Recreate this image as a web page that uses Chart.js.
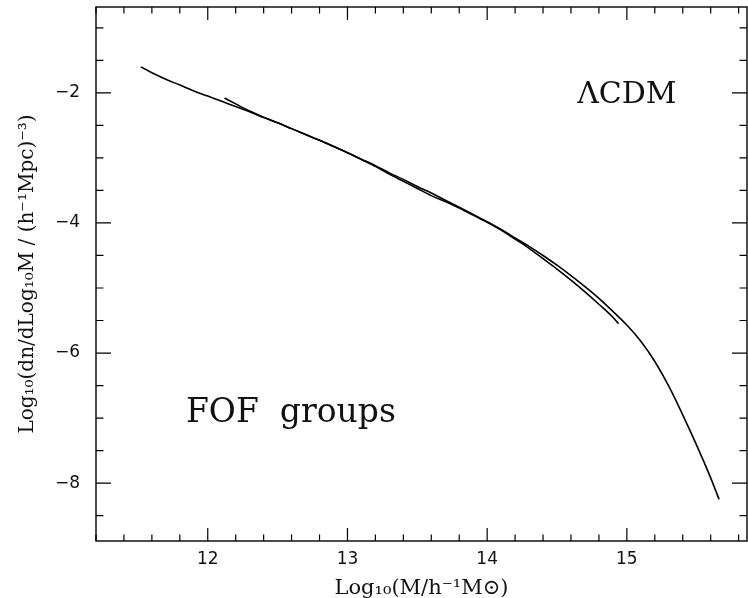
<!DOCTYPE html>
<html>
<head>
<meta charset="utf-8">
<script src="https://cdn.jsdelivr.net/npm/chart.js@4.4.1/dist/chart.umd.min.js"></script>
<style>
  html, body { margin: 0; padding: 0; background: #ffffff; }
  #wrap { width: 748px; height: 598px; }
</style>
</head>
<body>
<div id="wrap"><canvas id="c" width="748" height="598"></canvas></div>
<script>
// ---- data ----
const fullMass = [11.52, 11.6, 11.7, 11.8, 11.9, 12.0, 12.1, 12.2, 12.3, 12.4, 12.5, 12.6, 12.7, 12.8, 12.9,
  13.0, 13.1, 13.2, 13.3, 13.4, 13.5, 13.6, 13.7, 13.8, 13.9, 14.0, 14.1, 14.2, 14.3, 14.4, 14.5,
  14.6, 14.7, 14.8, 14.9, 15.0, 15.1, 15.2, 15.3, 15.4, 15.5, 15.6, 15.66];
const fullDens = [-1.60, -1.69, -1.79, -1.88, -1.97, -2.05, -2.13, -2.21, -2.29, -2.38, -2.46, -2.55, -2.64, -2.73, -2.82,
  -2.92, -3.02, -3.12, -3.23, -3.33, -3.44, -3.54, -3.65, -3.76, -3.87, -3.98, -4.10, -4.23, -4.36, -4.50, -4.65,
  -4.81, -4.98, -5.16, -5.36, -5.57, -5.82, -6.13, -6.51, -6.95, -7.42, -7.92, -8.25];
const partMass = [12.12, 12.2, 12.3, 12.4, 12.5, 12.6, 12.7, 12.8, 12.9, 13.0, 13.1, 13.2, 13.3, 13.4, 13.5,
  13.6, 13.7, 13.8, 13.9, 14.0, 14.1, 14.2, 14.3, 14.4, 14.5, 14.6, 14.7, 14.8, 14.9, 14.94];
const partDens = [-2.08, -2.17, -2.28, -2.375, -2.46, -2.55, -2.64, -2.73, -2.825, -2.92, -3.025, -3.13, -3.25, -3.36, -3.47,
  -3.58, -3.67, -3.77, -3.88, -3.99, -4.11, -4.25, -4.39, -4.55, -4.71, -4.88, -5.06, -5.25, -5.45, -5.55];
const xTickLabels = [12, 13, 14, 15];
const yTickLabels = [-8, -6, -4, -2];
const xRange = [11.2, 15.86];
const yRange = [-8.89, -0.68];
const xMinorStep = 0.2;
const yMinorStep = 0.5;
const annotations = [
  { text: 'ΛCDM', x: 15.0, y: -2.035, size: 30 },
  { text: 'FOF  groups', x: 12.595, y: -6.93, size: 33 }
];

const toPts = (xs, ys) => xs.map((x, i) => ({ x: x, y: ys[i] }));

// inward ticks on all four sides + frame + text labels
const framePlugin = {
  id: 'frame',
  afterDraw(chart) {
    const { ctx, chartArea: a, scales } = chart;
    const xs = scales.x, ys = scales.y;
    ctx.save();
    ctx.strokeStyle = '#000';
    ctx.lineWidth = 1.4;
    ctx.strokeRect(a.left, a.top, a.right - a.left, a.bottom - a.top);
    ctx.lineWidth = 1.2;
    ctx.beginPath();
    const eps = 1e-6;
    for (let v = Math.ceil(xRange[0] / xMinorStep) * xMinorStep; v <= xRange[1] + eps; v += xMinorStep) {
      const major = Math.abs(v - Math.round(v)) < eps;
      const len = major ? 13 : 6.5;
      const px = xs.getPixelForValue(v);
      ctx.moveTo(px, a.bottom); ctx.lineTo(px, a.bottom - len);
      ctx.moveTo(px, a.top); ctx.lineTo(px, a.top + len);
    }
    for (let v = Math.ceil(yRange[0] / yMinorStep) * yMinorStep; v <= yRange[1] + eps; v += yMinorStep) {
      const major = Math.abs(v / 2 - Math.round(v / 2)) < eps;
      const len = major ? 15 : 7.5;
      const py = ys.getPixelForValue(v);
      ctx.moveTo(a.left, py); ctx.lineTo(a.left + len, py);
      ctx.moveTo(a.right, py); ctx.lineTo(a.right - len, py);
    }
    ctx.stroke();
    ctx.fillStyle = '#111';
    ctx.textAlign = 'center';
    ctx.textBaseline = 'middle';
    annotations.forEach(t => {
      ctx.font = t.size + 'px "DejaVu Serif", serif';
      ctx.fillText(t.text, xs.getPixelForValue(t.x), ys.getPixelForValue(t.y));
    });
    ctx.restore();
  }
};

new Chart(document.getElementById('c'), {
  type: 'line',
  data: {
    datasets: [
      { data: toPts(fullMass, fullDens), borderColor: '#000', borderWidth: 1.6, pointRadius: 0, cubicInterpolationMode: 'monotone', fill: false },
      { data: toPts(partMass, partDens), borderColor: '#000', borderWidth: 1.6, pointRadius: 0, cubicInterpolationMode: 'monotone', fill: false }
    ]
  },
  options: {
    responsive: false,
    animation: false,
    layout: { padding: { top: 7, right: 1, left: 0, bottom: 0 } },
    plugins: { legend: { display: false }, tooltip: { enabled: false } },
    scales: {
      x: {
        type: 'linear', min: xRange[0], max: xRange[1],
        afterBuildTicks: s => { s.ticks = xTickLabels.map(v => ({ value: v })); },
        afterFit: s => { s.height = 57; s.paddingLeft = 0; s.paddingRight = 0; },
        grid: { display: false, tickLength: 0, drawTicks: false },
        border: { display: false },
        ticks: { color: '#111', padding: 8, maxRotation: 0, font: { family: 'DejaVu Sans', size: 17 }, callback: v => String(v) },
        title: { display: true, text: 'Log₁₀(M/h⁻¹M⊙)', color: '#111', padding: { top: 0, bottom: -3 }, font: { family: 'DejaVu Serif', size: 21 } }
      },
      y: {
        type: 'linear', min: yRange[0], max: yRange[1],
        afterBuildTicks: s => { s.ticks = yTickLabels.map(v => ({ value: v })); },
        afterFit: s => { s.width = 96; s.paddingTop = 0; s.paddingBottom = 0; },
        grid: { display: false, tickLength: 0, drawTicks: false },
        border: { display: false },
        ticks: { color: '#111', padding: 16, font: { family: 'DejaVu Sans', size: 17 }, callback: v => String(v).replace('-', '−') },
        title: { display: true, text: 'Log₁₀(dn/dLog₁₀M / (h⁻¹Mpc)⁻³)', color: '#111', padding: { top: 16, bottom: 0 }, font: { family: 'DejaVu Serif', size: 20 } }
      }
    }
  },
  plugins: [framePlugin]
});
</script>
</body>
</html>
